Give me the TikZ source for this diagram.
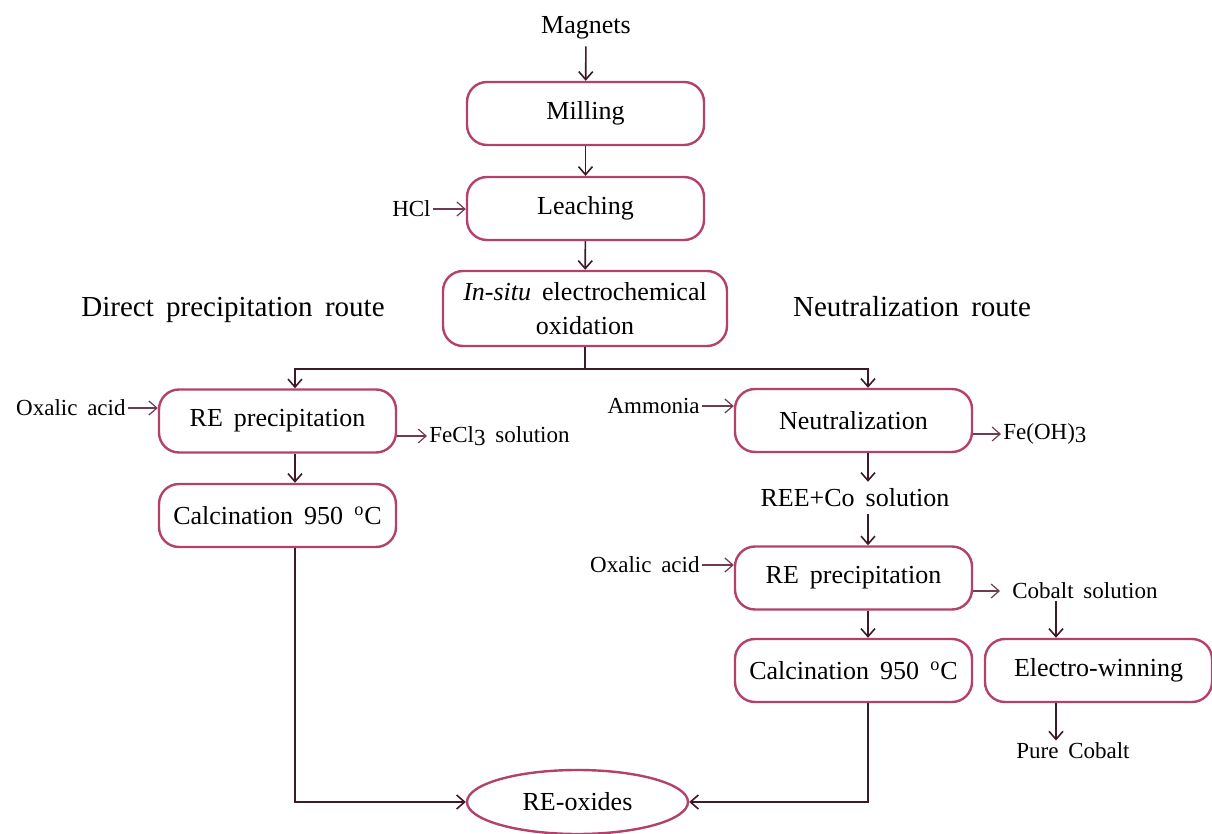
\documentclass[tikz,border=0pt]{standalone}
\usepackage{fontspec}
\setmainfont{Liberation Serif}[WordSpace=1.7]
\usetikzlibrary{arrows.meta,shapes.geometric}
\definecolor{boxred}{RGB}{178,66,108}
\definecolor{flowdark}{RGB}{62,26,40}
\definecolor{feedline}{RGB}{112,58,82}
\tikzset{>/.tip={Straight Barb[length=4pt,width=7pt]},
  procbox/.style={draw=boxred, line width=1.2pt, rounded corners=10pt,
    minimum width=118.5pt, minimum height=31.5pt, font=\fontsize{13}{17}\selectfont},
  maintext/.style={font=\fontsize{13}{17}\selectfont},
  sidetext/.style={font=\fontsize{11.5}{14}\selectfont, inner sep=1pt},
  heading/.style={font=\fontsize{14.5}{17}\selectfont, anchor=base},
  flow/.style={->, draw=flowdark, line width=0.8pt},
  feed/.style={->, draw=feedline, line width=0.6pt}}
\newcommand{\degC}{\textsuperscript{o}C}
\newcommand{\lowthree}{\raisebox{-0.3ex}{3}}

\begin{document}
\begin{tikzpicture}[x=5pt,y=-5pt]
\useasboundingbox (0,0) rectangle (121.2,83.4);

% main line
\node[maintext] (magnets) at (58.6,2.8) {Magnets};
\node[procbox] (milling) at (58.55,11.35) {Milling};
\node[procbox] (leaching) at (58.55,20.85) {Leaching};
\node[sidetext, anchor=east] (hcl) at (43.3,20.9) {HCl};
\node[procbox, minimum width=142pt, minimum height=37.5pt, align=center] (insitu) at (58.5,30.85)
  {\textit{In-situ} electrochemical\\oxidation};
\coordinate (split) at (58.5,36.9);

\node[heading] (direct) at (23.3,31.7) {Direct precipitation route};
\node[heading] (neutroute) at (91.2,31.7) {Neutralization route};

% direct precipitation route
\node[procbox] (rep1) at (27.75,42.1) {RE precipitation};
\node[sidetext, anchor=east] (oxalic1) at (12.8,40.8) {Oxalic acid};
\node[sidetext, anchor=west] (fecl) at (42.7,43.6) {FeCl\lowthree{} solution};
\node[procbox] (calc1) at (27.75,51.55) {Calcination 950 \degC};

% neutralization route
\node[procbox] (neut) at (85.35,42.05) {Neutralization};
\node[sidetext, anchor=east] (ammonia) at (70.2,40.6) {Ammonia};
\node[sidetext, anchor=west] (feoh) at (100.1,43.4) {Fe(OH)\lowthree};
\node[maintext] (reeco) at (85.5,49.8) {REE+Co solution};
\node[procbox] (rep2) at (85.35,57.8) {RE precipitation};
\node[sidetext, anchor=east] (oxalic2) at (70.2,56.5) {Oxalic acid};
\node[sidetext, anchor=west, inner xsep=6pt] (cobalt) at (100.0,59.1) {Cobalt solution};
\node[procbox] (calc2) at (85.35,67.05) {Calcination 950 \degC};
\node[procbox, minimum width=113.5pt] (electro) at (109.85,67.05) {Electro-winning};
\node[sidetext] (pure) at (107.3,75.1) {Pure Cobalt};
\coordinate (eltop) at ([xshift=-21.25pt]electro.north);
\coordinate (elbot) at ([xshift=-21.25pt]electro.south);

\node[ellipse, draw=boxred, line width=1.2pt, minimum width=110.5pt, minimum height=32pt,
  inner sep=0pt, maintext] (reox) at (57.75,80.2) {RE-oxides};

\draw[flow] (magnets) -- (milling);
\draw[flow] (milling) -- (leaching);
\draw[feed] (hcl.east) -- (hcl.east -| leaching.west);
\draw[flow] (leaching) -- (insitu);
\draw[flowdark, line width=0.8pt] (insitu) -- (split);
\draw[flow] (split) -| ([xshift=8.75pt]rep1.north);
\draw[flow] (split) -| ([xshift=7.25pt]neut.north);

\draw[feed] (oxalic1.east) -- (oxalic1.east -| rep1.west);
\draw[feed] (rep1.east |- fecl.west) -- (fecl.west);
\draw[flow] ([xshift=8.75pt]rep1.south) -- ([xshift=8.75pt]calc1.north);
\draw[flow] ([xshift=8.75pt]calc1.south) |- (reox.west);

\draw[feed] (ammonia.east) -- (ammonia.east -| neut.west);
\draw[feed] (neut.east |- feoh.west) -- (feoh.west);
\draw[flow] ([xshift=7.25pt]neut.south) -- ([xshift=6.5pt]reeco.north);
\draw[flow] ([xshift=6.5pt]reeco.south) -- ([xshift=7.25pt]rep2.north);
\draw[feed] (oxalic2.east) -- (oxalic2.east -| rep2.west);
\draw[feed] (rep2.east |- cobalt.west) -- (cobalt.west);
\draw[flow] ([xshift=7.25pt]rep2.south) -- ([xshift=7.25pt]calc2.north);
\draw[flow] (eltop |- cobalt.south) -- (eltop);
\draw[flow] (elbot) -- (elbot |- pure.north);
\draw[flow] ([xshift=7.25pt]calc2.south) |- (reox.east);
\end{tikzpicture}
\end{document}
